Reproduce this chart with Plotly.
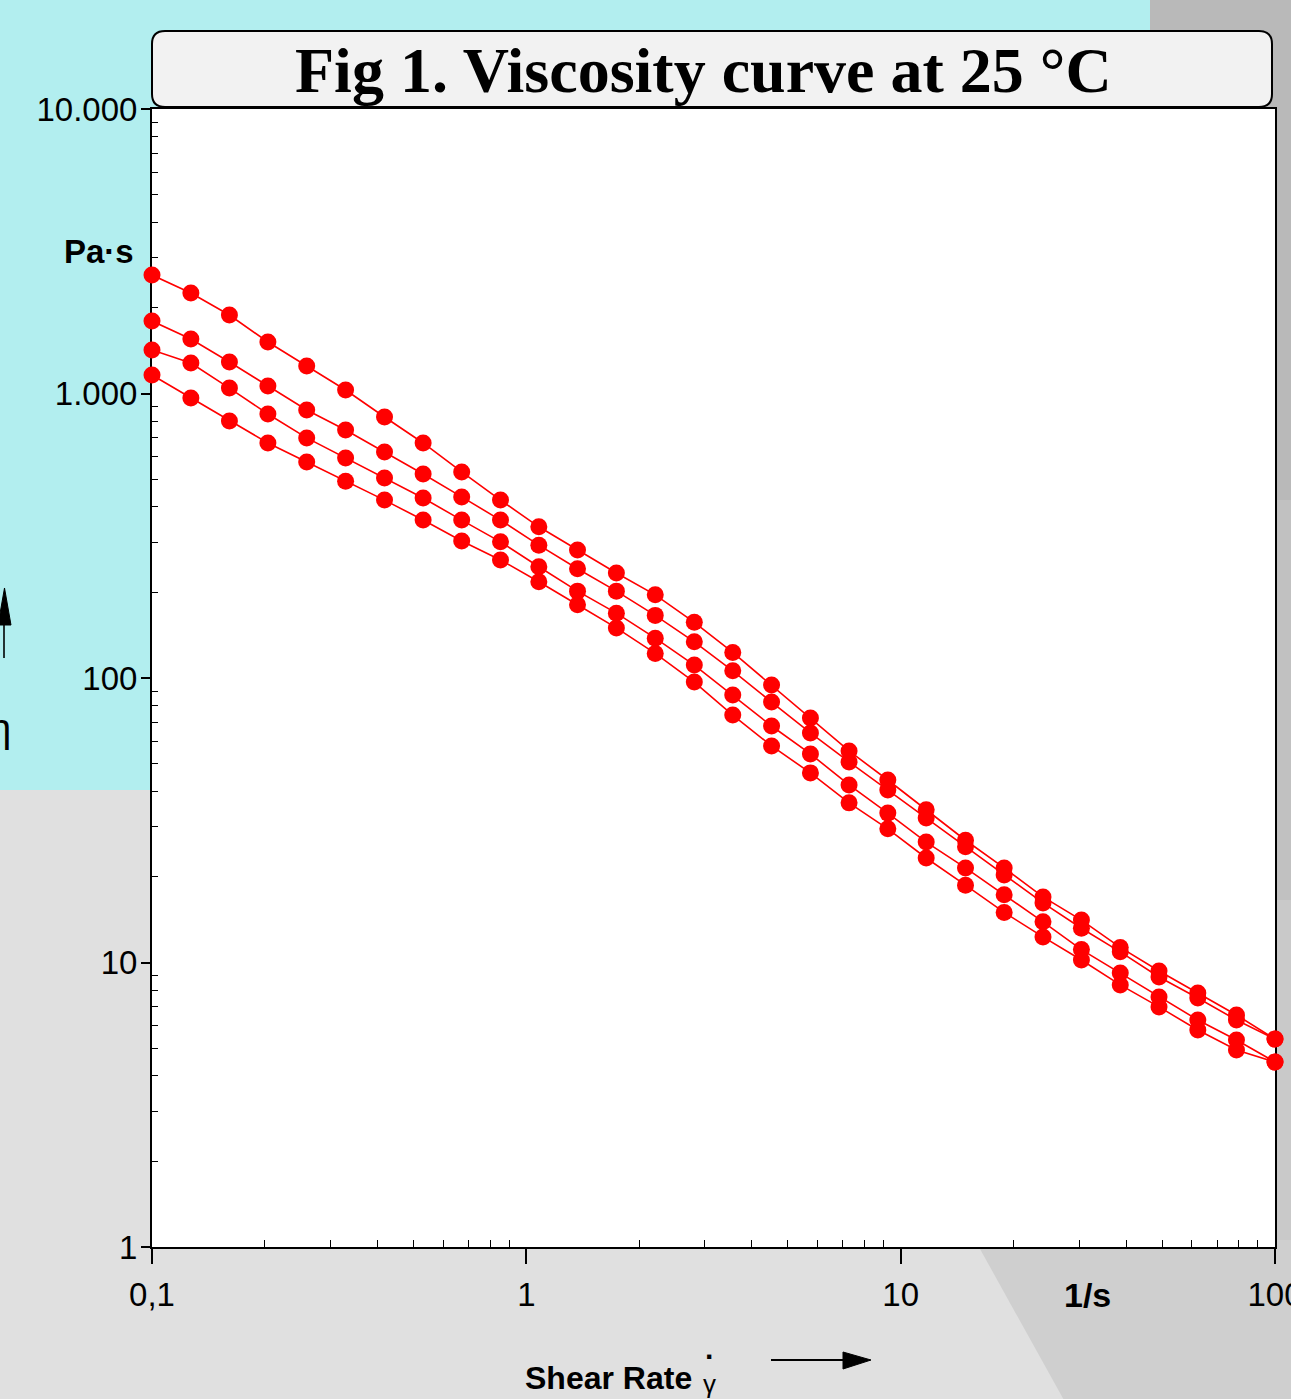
import plotly.graph_objects as go

# ---------------- data ----------------
shear_rate = [0.1, 0.127, 0.161, 0.204, 0.259, 0.329, 0.418, 0.53, 0.672, 0.853,
              1.08, 1.37, 1.74, 2.21, 2.81, 3.56, 4.52, 5.74, 7.28, 9.24,
              11.7, 14.9, 18.9, 24.0, 30.4, 38.6, 49.0, 62.2, 78.9, 100]

visc_1 = [2609, 2256, 1888, 1517, 1249, 1029, 827, 670, 530, 422,
          340, 282, 234, 196, 157, 123, 94.5, 72.3, 55.4, 43.8,
          34.4, 26.9, 21.5, 17.0, 14.1, 11.3, 9.34, 7.81, 6.54, 5.38]
visc_2 = [1798, 1555, 1290, 1063, 875, 744, 623, 521, 433, 359,
          293, 242, 202, 166, 134, 106, 82.3, 64.1, 50.7, 40.4,
          32.2, 25.5, 20.3, 16.2, 13.2, 10.9, 8.89, 7.50, 6.28, 5.38]
visc_3 = [1422, 1280, 1045, 847, 698, 593, 505, 429, 359, 301,
          246, 202, 169, 138, 111, 87.1, 67.8, 54.1, 42.1, 33.5,
          26.5, 21.5, 17.3, 13.9, 11.1, 9.19, 7.56, 6.28, 5.34, 4.47]
visc_4 = [1161, 964, 801, 670, 574, 492, 422, 359, 303, 260,
          218, 181, 150, 122, 96.8, 74.1, 57.7, 46.4, 36.4, 29.5,
          23.3, 18.7, 15.0, 12.3, 10.2, 8.34, 6.98, 5.79, 4.93, 4.47]

x_tickvals = [0.1, 1, 10, 100]
x_ticktext = ["0,1", "1", "10", "100"]
y_tickvals = [1, 10, 100, 1000, 10000]
y_ticktext = ["1", "10", "100", "1.000", "10.000"]

title_text = "Fig 1. Viscosity curve at 25 °C"

# ---------------- layout helpers ----------------
W_FIG, H_FIG = 1291, 1399
PL, PR, PT, PB = 152, 1275, 109, 1247
PW, PH = PR - PL, PB - PT


def px(x):
    return (x - PL) / PW


def py(y):
    return (PB - y) / PH


def path(points, close=True):
    s = "M " + " L ".join(f"{px(x):.5f},{py(y):.5f}" for x, y in points)
    return s + (" Z" if close else "")


def rounded_box(x0, y0, x1, y1, r):
    P = lambda x, y: f"{px(x):.5f},{py(y):.5f}"
    return (f"M {P(x0 + r, y0)} L {P(x1 - r, y0)} Q {P(x1, y0)} {P(x1, y0 + r)} "
            f"L {P(x1, y1 - r)} Q {P(x1, y1)} {P(x1 - r, y1)} "
            f"L {P(x0 + r, y1)} Q {P(x0, y1)} {P(x0, y1 - r)} "
            f"L {P(x0, y0 + r)} Q {P(x0, y0)} {P(x0 + r, y0)} Z")


NARROW = "Liberation Sans Narrow, Arial Narrow, Liberation Sans, Arial, sans-serif"
SERIF = "Liberation Serif, Times New Roman, serif"
RED = "#ff0000"

fig = go.Figure()
for ys in (visc_1, visc_2, visc_3, visc_4):
    fig.add_trace(go.Scatter(
        x=shear_rate, y=ys, mode="lines+markers",
        line=dict(color=RED, width=1.6),
        marker=dict(color=RED, size=17, symbol="circle", line=dict(width=0)),
        cliponaxis=False, showlegend=False, hoverinfo="x+y"))

x_minor = [m * d for d in (0.1, 1, 10) for m in range(2, 10)]
y_minor = [m * d for d in (1, 10, 100, 1000) for m in range(2, 10)]

shapes = []
# background
shapes.append(dict(type="path", xref="paper", yref="paper", layer="below",
                   path=path([(-20, -20), (1150, -20), (1150, 120), (160, 120), (160, 790), (-20, 790)]),
                   fillcolor="#b2eeef", line=dict(width=0)))
shapes.append(dict(type="path", xref="paper", yref="paper", layer="below",
                   path=path([(1150, -20), (1310, -20), (1310, 500), (1150, 500)]),
                   fillcolor="#b9b9b9", line=dict(width=0)))
shapes.append(dict(type="path", xref="paper", yref="paper", layer="below",
                   path=path([(1260, 500), (1310, 500), (1310, 900), (1260, 900)]),
                   fillcolor="#c1c1c1", line=dict(width=0)))
shapes.append(dict(type="path", xref="paper", yref="paper", layer="below",
                   path=path([(1260, 900), (1310, 900), (1310, 1250), (1260, 1250)]),
                   fillcolor="#c9c9c9", line=dict(width=0)))
shapes.append(dict(type="path", xref="paper", yref="paper", layer="below",
                   path=path([(975, 1240), (1310, 1240), (1310, 1420), (1075, 1420)]),
                   fillcolor="#cfcfcf", line=dict(width=0)))
# plot area
shapes.append(dict(type="rect", xref="paper", yref="paper", layer="below",
                   x0=0, x1=1, y0=0, y1=1, fillcolor="white", line=dict(width=0)))
# title box
shapes.append(dict(type="path", xref="paper", yref="paper", layer="below",
                   path=rounded_box(152, 31, 1272, 107, 13),
                   fillcolor="#f2f2f2", line=dict(color="black", width=2)))
# y arrow
shapes.append(dict(type="path", xref="paper", yref="paper", layer="above",
                   path=path([(4, 624), (4, 658)], close=False),
                   line=dict(color="black", width=1.6)))
shapes.append(dict(type="path", xref="paper", yref="paper", layer="above",
                   path=path([(-2, 625), (11, 625), (4.5, 588)]),
                   fillcolor="black", line=dict(color="black", width=1)))
# x arrow
shapes.append(dict(type="path", xref="paper", yref="paper", layer="above",
                   path=path([(771, 1360), (845, 1360)], close=False),
                   line=dict(color="black", width=2)))
shapes.append(dict(type="path", xref="paper", yref="paper", layer="above",
                   path=path([(843, 1352), (843, 1369), (871, 1360)]),
                   fillcolor="black", line=dict(color="black", width=1)))

annotations = [
    dict(text=f"<b>{title_text}</b>", x=px(703), y=py(71), xref="paper", yref="paper",
         showarrow=False, xanchor="center", yanchor="middle",
         font=dict(family=SERIF, size=64, color="black")),
    dict(text="<b>Pa·s</b>", x=px(136), y=py(251), xref="paper", yref="paper",
         showarrow=False, xanchor="right", yanchor="middle",
         font=dict(family=NARROW, size=33, color="black")),
    dict(text="<b>1/s</b>", x=px(1087), y=py(1295), xref="paper", yref="paper",
         showarrow=False, xanchor="center", yanchor="middle",
         font=dict(family=NARROW, size=34, color="black")),
    dict(text="<b>Shear Rate</b>", x=px(694), y=py(1378), xref="paper", yref="paper",
         showarrow=False, xanchor="right", yanchor="middle",
         font=dict(family=NARROW, size=32, color="black")),
    dict(text="γ", x=px(709), y=py(1384), xref="paper", yref="paper",
         showarrow=False, xanchor="center", yanchor="middle",
         font=dict(family=NARROW, size=26, color="black")),
    dict(text="<b>·</b>", x=px(710), y=py(1356), xref="paper", yref="paper",
         showarrow=False, xanchor="center", yanchor="middle",
         font=dict(family=NARROW, size=30, color="black")),
    dict(text="η", x=px(0), y=py(728), xref="paper", yref="paper",
         showarrow=False, xanchor="center", yanchor="middle",
         font=dict(family=NARROW, size=40, color="black")),
]

tickfont = dict(family=NARROW, size=33, color="black")

fig.update_layout(
    width=W_FIG, height=H_FIG, autosize=False,
    margin=dict(l=PL, r=W_FIG - PR, t=PT, b=H_FIG - PB, pad=0, autoexpand=False),
    paper_bgcolor="#e0e0e0", plot_bgcolor="rgba(0,0,0,0)",
    showlegend=False,
    shapes=shapes, annotations=annotations,
    xaxis=dict(type="log", range=[-1, 2], showgrid=False, zeroline=False, automargin=False,
               showline=True, linecolor="black", linewidth=2, mirror=True,
               ticks="outside", ticklen=15, tickwidth=1.5, tickcolor="black",
               tickmode="array", tickvals=x_tickvals, ticktext=x_ticktext,
               tickfont=tickfont, ticklabelstandoff=2, ticklabeloverflow="allow",
               layer="below traces",
               minor=dict(ticks="inside", ticklen=7, tickwidth=1.3, tickcolor="black",
                          tickmode="array", tickvals=x_minor, showgrid=False)),
    xaxis2=dict(type="log", range=[-1, 2], overlaying="x", anchor="y", side="bottom",
                showgrid=False, zeroline=False, showline=False, automargin=False,
                ticks="inside", ticklen=14, tickwidth=1.5, tickcolor="black",
                tickmode="array", tickvals=x_tickvals, showticklabels=False,
                layer="below traces"),
    yaxis=dict(type="log", range=[0, 4], showgrid=False, zeroline=False, automargin=False,
               showline=True, linecolor="black", linewidth=2, mirror=True,
               ticks="outside", ticklen=9, tickwidth=1.5, tickcolor="black",
               tickmode="array", tickvals=y_tickvals, ticktext=y_ticktext,
               tickfont=tickfont, ticklabelstandoff=-3, ticklabeloverflow="allow",
               layer="below traces",
               minor=dict(ticks="inside", ticklen=6, tickwidth=1.3, tickcolor="black",
                          tickmode="array", tickvals=y_minor, showgrid=False)),
    yaxis2=dict(type="log", range=[0, 4], overlaying="y", anchor="x", side="left",
                showgrid=False, zeroline=False, showline=False, automargin=False,
                ticks="inside", ticklen=10, tickwidth=1.5, tickcolor="black",
                tickmode="array", tickvals=y_tickvals, showticklabels=False,
                layer="below traces"),
)

fig.write_html("out.html",
               config={"displayModeBar": False},
               post_script="document.body.style.margin='0';document.body.style.overflow='hidden';")
